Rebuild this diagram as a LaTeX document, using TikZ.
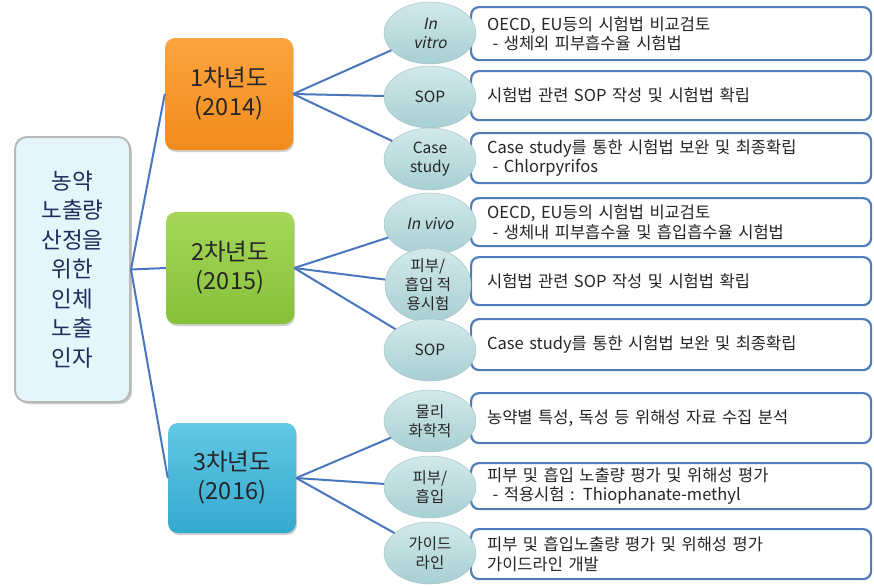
\documentclass[tikz,border=0pt]{standalone}
\usepackage{fontspec}
\setmainfont[AutoFakeSlant=0.2]{Noto Sans CJK KR}
\usetikzlibrary{shapes.geometric,shadows}
\definecolor{linec}{HTML}{4A76BE}
\definecolor{boxline}{HTML}{4F7EB8}
\definecolor{rootfill}{HTML}{E4F6FA}
\definecolor{roottext}{HTML}{1E2E5C}
\definecolor{ellA}{HTML}{D2E9EA}
\definecolor{ellB}{HTML}{A7CFD3}
\definecolor{orA}{HTML}{FBA540}
\definecolor{orB}{HTML}{F28B1C}
\definecolor{grA}{HTML}{A6D75A}
\definecolor{grB}{HTML}{86C03A}
\definecolor{blA}{HTML}{62C8E4}
\definecolor{blB}{HTML}{34A9CF}
\tikzset{
  conn/.style={draw=linec, line width=2pt},
  yearbox/.style={rounded corners=10pt, minimum width=128pt, minimum height=112pt,
     align=center, font=\fontsize{23.5}{29}\selectfont, text=black!85,
     drop shadow={shadow xshift=1pt, shadow yshift=-2pt, opacity=0.35}},
  rootbox/.style={rounded corners=12pt, fill=rootfill, draw=gray!55, line width=2pt,
     minimum width=115pt, minimum height=265pt, align=center,
     font=\fontsize{22.5}{29.5}\selectfont, text=roottext,
     drop shadow={shadow xshift=2pt, shadow yshift=-2pt, opacity=0.4}},
  ell/.style={ellipse, top color=ellA, bottom color=ellB, draw=ellB!80!gray,
     line width=0.4pt, minimum width=92pt, minimum height=62pt, inner sep=0pt,
     align=center, font=\fontsize{15.5}{19}\selectfont, text=black!85},
  itembox/.style={rounded corners=8pt, draw=boxline, line width=2.2pt, fill=white,
     minimum width=400pt, text width=368pt, align=left,
     font=\fontsize{16.5}{19.5}\selectfont, text=black!85, inner xsep=16pt, anchor=north west},
}
\begin{document}
\begin{tikzpicture}[x=1pt,y=-1pt]
\useasboundingbox (0,0) rectangle (874,587);
\fill[white] (0,0) rectangle (874,587);

% item boxes
\node[itembox, minimum height=53pt] (b11) at (470,6) {OECD, EU등의 시험법 비교검토\\\ - 생체외 피부흡수율 시험법};
\node[itembox, minimum height=49pt] (b12) at (470,70) {시험법 관련 SOP 작성 및 시험법 확립};
\node[itembox, minimum height=50pt] (b13) at (470,132) {Case study를 통한 시험법 보완 및 최종확립\\\ - Chlorpyrifos};
\node[itembox, minimum height=48pt] (b21) at (470,197) {OECD, EU등의 시험법 비교검토\\\ - 생체내 피부흡수율 및 흡입흡수율 시험법};
\node[itembox, minimum height=48pt] (b22) at (470,256) {시험법 관련 SOP 작성 및 시험법 확립};
\node[itembox, minimum height=51pt] (b23) at (470,318) {Case study를 통한 시험법 보완 및 최종확립};
\node[itembox, minimum height=50pt] (b31) at (470,392) {농약별 특성, 독성 등 위해성 자료 수집 분석};
\node[itembox, minimum height=46pt] (b32) at (470,462) {피부 및 흡입 노출량 평가 및 위해성 평가\\\ - 적용시험 : Thiophanate-methyl};
\node[itembox, minimum height=50pt] (b33) at (470,528) {피부 및 흡입노출량 평가 및 위해성 평가\\가이드라인 개발};

% ellipses
\node[ell] (e11) at (430,33) {\itshape In\\\itshape vitro};
\node[ell] (e12) at (430,97) {SOP};
\node[ell] (e13) at (430,159) {Case\\study};
\node[ell] (e21) at (430,224) {\itshape In vivo};
\node[ell, minimum width=86pt, minimum height=64pt] (e22) at (428,285) {피부/\\흡입 적\\용시험};
\node[ell] (e23) at (430,350) {SOP};
\node[ell] (e31) at (430,421) {물리\\화학적};
\node[ell] (e32) at (430,487) {피부/\\흡입};
\node[ell] (e33) at (430,553) {가이드\\라인};

% root and years
\node[rootbox] (root) at (72.5,269.5) {농약\\노출량\\산정을\\위한\\인체\\노출\\인자};
\node[yearbox, top color=orA, bottom color=orB] (y1) at (229,94) {1차년도\\(2014)};
\node[yearbox, top color=grA, bottom color=grB] (y2) at (230,268) {2차년도\\(2015)};
\node[yearbox, top color=blA, bottom color=blB, minimum height=110pt] (y3) at (232,478) {3차년도\\(2016)};

% connectors
\draw[conn] (root.east) -- (y1.west);
\draw[conn] (root.east) -- (y2.west);
\draw[conn] (root.east) -- (y3.west);
\foreach \e in {e11,e12,e13} \draw[conn] (y1.east) -- (\e);
\foreach \e in {e21,e22,e23} \draw[conn] (y2.east) -- (\e);
\foreach \e in {e31,e32,e33} \draw[conn] (y3.east) -- (\e);
\end{tikzpicture}
\end{document}
